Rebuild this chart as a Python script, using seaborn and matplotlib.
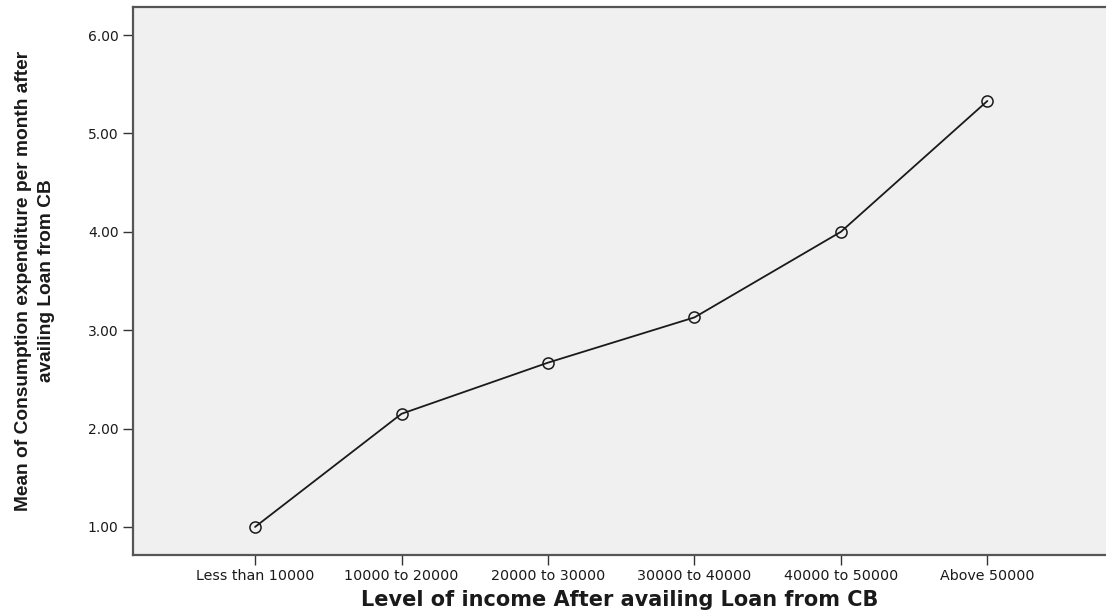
import pandas as pd
import matplotlib.pyplot as plt
import seaborn as sns

# Income groups and mean consumption expenditure
income_levels = ['Less than 10000', '10000 to 20000', '20000 to 30000',
                 '30000 to 40000', '40000 to 50000', 'Above 50000']
mean_expenditure = [1.00, 2.15, 2.67, 3.13, 4.00, 5.33]
y_ticks = [1.0, 2.0, 3.0, 4.0, 5.0, 6.0]

df = pd.DataFrame({'income': income_levels, 'mean': mean_expenditure})

sns.set_style('white')
plt.rcParams['font.family'] = ['DejaVu Sans']

fig = plt.figure(figsize=(11.06, 6.15), dpi=100)
ax = fig.add_axes([0.1203, 0.0976, 0.8797, 0.891])
ax.set_facecolor('#f0f0f0')

sns.lineplot(data=df, x='income', y='mean', ax=ax, sort=False,
             color='#1a1a1a', linewidth=1.3, marker='o', markersize=8,
             markerfacecolor='none', markeredgecolor='#1a1a1a', markeredgewidth=1.1)

ax.set_xlim(-0.833, 5.81)
ax.set_ylim(0.715, 6.285)
ax.set_yticks(y_ticks)
ax.set_yticklabels([f'{v:.2f}' for v in y_ticks])

ax.tick_params(axis='both', direction='out', length=7, width=1, color='#333333',
               labelsize=10, labelcolor='#1a1a1a', bottom=True, left=True)
ax.tick_params(axis='x', pad=3, labelsize=10.3)

for s in ['left', 'bottom', 'top']:
    ax.spines[s].set_color('#555555')
    ax.spines[s].set_linewidth(1.6)
ax.spines['right'].set_visible(False)

ax.set_xlabel('Level of income After availing Loan from CB', fontsize=15,
              fontweight='bold', color='#1a1a1a', labelpad=5)
ax.set_ylabel('Mean of Consumption expenditure per month after\navailing Loan from CB',
              fontsize=13.75, fontweight='bold', color='#1a1a1a',
              family=['Liberation Sans', 'DejaVu Sans'], linespacing=1.45)
ax.yaxis.set_label_coords(-0.08, 0.5)

fig.savefig('out.png', dpi=100)
